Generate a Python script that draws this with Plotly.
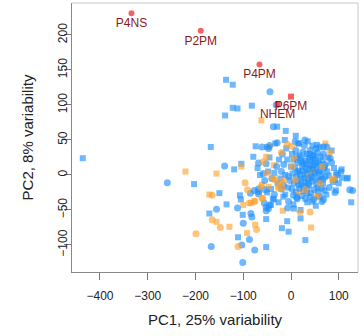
import plotly.graph_objects as go

# ---- data (PC1, PC2) ----
blue_sq_x = [-436, -136, -122, -122, -112, -82, -138, -29, -11, -168, -74, -104, -119, -203, -150, -107, -105, -135, -171, -101,
             -111, -52, 30, -8, -19, -5, 126, 94, 119, 107, 52, 20, 20, 6, -52, -38, -26, -42, 34, 45, 10, -13, -79, -36,
             2, 18, 33, 48, 62, 5, 22, 37, 51, 66, 0, 16, 31, 46, 61, 76, 3, 19, 34, 50, 64, 79, 6, 22, 38, 53, 67, 10, 26, 42,
             57, 22, 40, 58, -10, -25, -35, -28, -12, 5, -8, -12, -22, -6, 78, 90, 88, 74, 15, 45, 35, -45, -48, -42, -50, 100,
             105, 85, -65, -70, 92, 106, 117, 71, 54, 17, -33, -50, -16, 33, 61, 26, 36, 48, 20, 58, 40, 30, 12,
             28, 44, 56, 14, 70]
blue_sq_y = [24, 136, 129, 96, 95, 99, 85, 69, 63, 40, 41, 16, 8, -13, -26, -29, -35, -42, -55, -57,
             -89, -103, -93, -66, -76, -81, -39, -22, -4, -4, -44, -50, -62, -48, -63, -34, -39, -43, -39, -38, 56, 50, 26, -35,
             30, 28, 30, 28, 26, 22, 24, 25, 23, 21, 12, 6, 9, 8, 6, 5, 2, 1, 3, 2, 0, -1, -12, -14, -15, -13, -12, -24, -23, -26,
             -25, -30, -31, -30, 38, 22, 3, -12, -28, -42, 22, 0, -5, -18, 25, 10, -10, -28, 45, 42, 48, 25, 5, -20, -25, -12,
             5, 35, 0, 10, -7, 8, -5, 12, 43, 45, 45, 40, -31, -26, -31, 16, -6, 14, -6, 4, 22, 0, 26,
             -16, 10, -18, 4, -22]

blue_ci_x = [-259, -44, -31, -37, -139, -156, -112, -84, -100, -87, -167, -103, -76, -101, 129, 65, -7, -52, -47, -82, 13,
             -77, -85, -68, -56, -52, -45,
             10, 25, 40, 55, 68, 14, 29, 44, 58, 72, 8, 24, 39, 54, 69, 11, 27, 42, 57, 71, -2, 14, 30, 45, 60, 2, 18, 34, 49,
             64, 12, 30, 48, -18, -30, -40, -20, -5, -15, -20, -5, -15, 85, 95, 80, 68, 28, 60, 52, -52, -55, -35, 92, 75, -68,
             97, 82, 68, 29, 9, -47, -61, -45, -29, -58, -68, -54, -68, 5, 123, 32, 44, 24, 52, 16, 38, 62, 46,
             36, 20, 50, 66, 40]
blue_ci_y = [-11, 119, 100, 69, 13, -49, -47, -55, -69, -92, -102, -100, -107, -125, -22, -38, -47, -51, -48, -60, -34,
             -22, -26, -27, -40, -46, -43,
             35, 33, 35, 32, 30, 18, 20, 19, 17, 15, 10, 13, 14, 12, 9, -3, -4, -2, -5, -3, -8, -9, -10, -9, -8, -20, -19, -20, -21,
             -19, -32, -34, -35, 30, 12, -5, -20, -38, 15, 5, -2, -15, 18, 2, -18, -35, 42, 40, 38, 16, -8, -28, -25, 40, -20,
             0, 24, 40, 50, 48, 38, 40, 42, 46, 2, 17, -21, -24, -29, -21, 16, -4, 6, 20, -14, 8, 14, 28,
             -12, 20, 4, -6, 30]

orange_sq_x = [-62, -221, -156, -104, -171, -100, -156, -129, -75, -92, 42, -17, -77, 58, -84, -26,
               -52, -36, 6, -15, 16, 51, 72, 37, -45, 44, -47, 86, -61]
orange_sq_y = [78, 5, 2, 12, -28, -43, -67, -74, -71, -83, -75, -51, -37, -30, -40, -16,
               26, 14, 24, -7, -26, -31, 45, -2, 40, 5, -17, -7, -14]

orange_ci_x = [-96, -91, -165, -87, -165, -148, -72, -199, -111, 40, 19, -59, -63, -19, -61, -76,
               -50, -20, 9, -33, -26, 30, 82, 61, -8, 2, 65, 1, -58, -37, -20, 89]
orange_ci_y = [-11, -21, -29, -40, -64, -75, -78, -84, -102, -53, -53, -34, -17, -19, -33, -38,
               3, 32, -7, -7, -19, -21, 33, -12, 44, 12, 12, 41, 19, -5, -10, -5]

red_names = ["P4NS", "P2PM", "P4PM", "P6PM", "NHEM"]
red_x = [-334, -189, -66, 0, -28]
red_y = [231, 206, 158, 112, 101]
red_symbols = ["circle", "circle", "circle", "square", "square"]

x_ticks = [-400, -300, -200, -100, 0, 100]
y_ticks = [-100, -50, 0, 50, 100, 150, 200]

BLUE = "rgba(30,144,255,0.64)"
ORANGE = "rgba(255,160,40,0.62)"
FONT = "Liberation Sans, Arial, sans-serif"

fig = go.Figure()
fig.add_trace(go.Scatter(x=blue_sq_x, y=blue_sq_y, mode="markers",
                         marker=dict(symbol="square", size=6, color=BLUE, line=dict(width=0))))
fig.add_trace(go.Scatter(x=orange_sq_x, y=orange_sq_y, mode="markers",
                         marker=dict(symbol="square", size=6, color=ORANGE, line=dict(width=0))))
fig.add_trace(go.Scatter(x=blue_ci_x, y=blue_ci_y, mode="markers",
                         marker=dict(symbol="circle", size=7, color=BLUE, line=dict(width=0))))
fig.add_trace(go.Scatter(x=orange_ci_x, y=orange_ci_y, mode="markers",
                         marker=dict(symbol="circle", size=7, color=ORANGE, line=dict(width=0))))
fig.add_trace(go.Scatter(x=red_x, y=red_y, mode="markers+text", text=red_names,
                         textposition="bottom center",
                         textfont=dict(family=FONT, size=12, color="#8B1A1A"),
                         marker=dict(symbol=red_symbols, size=6, color="rgba(240,60,60,0.8)", line=dict(width=0))))

fig.update_layout(
    width=364, height=336,
    margin=dict(l=72, r=6, t=3, b=64),
    paper_bgcolor="white", plot_bgcolor="white",
    showlegend=False,
    font=dict(family=FONT, size=12, color="#222"),
    xaxis=dict(range=[-458.6, 140.3], tickvals=x_ticks, ticks="outside", ticklen=7, tickcolor="#777",
               ticklabelstandoff=6,
               showgrid=False, zeroline=False, showline=True, linecolor="#888", linewidth=1,
               tickfont=dict(size=12, color="#222"),
               title=dict(text="PC1, 25% variability", font=dict(size=15, color="#222"), standoff=12)),
    yaxis=dict(range=[-138.6, 245.7], tickvals=y_ticks, ticks="outside", ticklen=7, tickcolor="#777",
               tickangle=-90, ticklabelstandoff=-8,
               showgrid=False, zeroline=False, showline=True, linecolor="#888", linewidth=1,
               tickfont=dict(size=12, color="#222"),
               title=dict(text="PC2, 8% variability", font=dict(size=15, color="#222"), standoff=18)),
    shapes=[
        dict(type="line", xref="paper", yref="paper", x0=0, x1=1, y0=1, y1=1, line=dict(color="#c8c8c8", width=1)),
        dict(type="line", xref="paper", yref="paper", x0=1, x1=1, y0=0, y1=1, line=dict(color="#c8c8c8", width=1)),
    ],
)

fig.write_html("out.html")
